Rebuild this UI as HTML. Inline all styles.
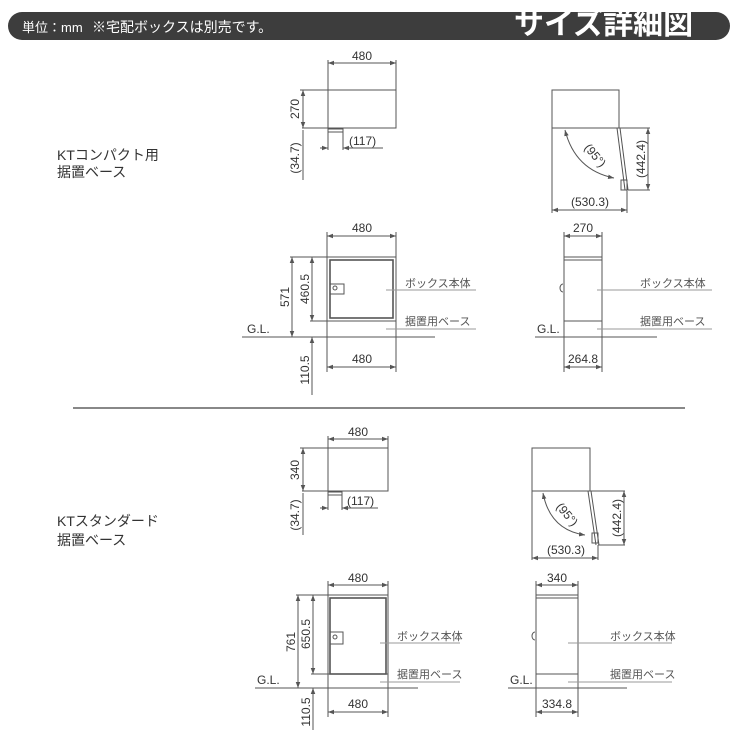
<!DOCTYPE html>
<html><head><meta charset="utf-8"><style>
html,body{margin:0;padding:0;background:#fff}
svg{display:block}
text{font-family:"Liberation Sans","Noto Sans CJK JP",sans-serif;fill:#333}
.l{stroke:#555;stroke-width:1;fill:none}
.t{stroke:#999;stroke-width:1;fill:none}
.d{font-size:12px}
.j{font-size:11px;fill:#555}
</style></head><body>
<svg width="740" height="740" viewBox="0 0 740 740" xmlns="http://www.w3.org/2000/svg">
<defs>
<marker id="a" viewBox="0 0 8 6" refX="8" refY="3" markerWidth="6" markerHeight="5" orient="auto-start-reverse"><path d="M0,0 L8,3 L0,6 z" fill="#555"/></marker>
</defs>
<rect x="8" y="12" width="722" height="28" rx="14" fill="#3d3d3d"/>
<text x="22" y="32" style="fill:#fff;font-size:13px">単位：mm</text>
<text x="92" y="32" style="fill:#fff;font-size:14px">※宅配ボックスは別売です。</text>
<text x="514" y="34" style="fill:#fff;font-size:30px;font-weight:bold">サイズ詳細図</text>

<text x="57" y="160" style="font-size:14px">KTコンパクト用</text>
<text x="57" y="177" style="font-size:14px">据置ベース</text>

<!-- S1 top-left -->
<rect class="l" x="328" y="90" width="68" height="38"/>
<line class="l" x1="328" y1="60" x2="328" y2="90"/><line class="l" x1="396" y1="60" x2="396" y2="90"/>
<line class="l" x1="328" y1="63" x2="396" y2="63" marker-start="url(#a)" marker-end="url(#a)"/>
<text class="d" x="362" y="60" text-anchor="middle">480</text>
<line class="l" x1="300" y1="90" x2="328" y2="90"/><line class="l" x1="302" y1="128" x2="328" y2="128"/>
<line class="l" x1="303" y1="90" x2="303" y2="128" marker-start="url(#a)" marker-end="url(#a)"/>
<text class="d" transform="translate(299,109) rotate(-90)" text-anchor="middle">270</text>
<rect class="l" x="328" y="129" width="15" height="3" fill="#ccc"/>
<line class="l" x1="328" y1="128" x2="328" y2="150"/><line class="l" x1="343" y1="130" x2="343" y2="150"/>
<line class="l" x1="320" y1="148" x2="328" y2="148" marker-end="url(#a)"/>
<line class="l" x1="383" y1="148" x2="343" y2="148" marker-end="url(#a)"/>
<text class="d" x="349" y="145">(117)</text>
<line class="l" x1="303" y1="130" x2="303" y2="180"/>
<text class="d" transform="translate(299,158) rotate(-90)" text-anchor="middle">(34.7)</text>

<!-- S1 top-right -->
<rect class="l" x="552" y="90" width="67" height="38"/>
<line class="l" x1="552" y1="128" x2="650" y2="128"/>
<line class="l" x1="552" y1="128" x2="552" y2="213"/>
<line class="l" x1="617" y1="128" x2="625" y2="190"/>
<line class="l" x1="620" y1="128" x2="628" y2="190"/>
<rect class="l" x="621" y="180" width="6" height="10"/>
<line class="l" x1="628" y1="190" x2="650" y2="190"/>
<path class="l" d="M565,130 Q575,170 614,178" marker-start="url(#a)" marker-end="url(#a)"/>
<text class="d" transform="translate(592,158) rotate(50)" text-anchor="middle">(95°)</text>
<line class="l" x1="648" y1="128" x2="648" y2="190" marker-start="url(#a)" marker-end="url(#a)"/>
<text class="d" transform="translate(645,159) rotate(-90)" text-anchor="middle">(442.4)</text>
<line class="l" x1="627" y1="190" x2="627" y2="213"/>
<line class="l" x1="552" y1="210" x2="627" y2="210" marker-start="url(#a)" marker-end="url(#a)"/>
<text class="d" x="590" y="206" text-anchor="middle">(530.3)</text>

<!-- S1 front -->
<line class="l" x1="327" y1="232" x2="327" y2="257"/><line class="l" x1="396" y1="232" x2="396" y2="257"/>
<line class="l" x1="327" y1="236" x2="396" y2="236" marker-start="url(#a)" marker-end="url(#a)"/>
<text class="d" x="362" y="232" text-anchor="middle">480</text>
<rect class="l" x="327" y="257" width="69" height="64"/>
<rect class="l" x="330" y="260" width="63" height="58" style="stroke-width:1.6"/>
<rect class="l" x="330" y="284" width="14" height="10"/>
<circle class="l" cx="335" cy="288" r="2"/>
<rect class="l" x="327" y="321" width="69" height="16"/>
<line class="l" x1="327" y1="337" x2="327" y2="372"/><line class="l" x1="396" y1="337" x2="396" y2="372"/>
<line class="l" x1="327" y1="367" x2="396" y2="367" marker-start="url(#a)" marker-end="url(#a)"/>
<text class="d" x="362" y="363" text-anchor="middle">480</text>
<line class="l" x1="242" y1="337" x2="435" y2="337"/>
<text class="d" x="247" y="333">G.L.</text>
<line class="l" x1="290" y1="257" x2="327" y2="257"/>
<line class="l" x1="292" y1="257" x2="292" y2="337" marker-start="url(#a)" marker-end="url(#a)"/>
<text class="d" transform="translate(289,297) rotate(-90)" text-anchor="middle">571</text>
<line class="l" x1="310" y1="321" x2="327" y2="321"/>
<line class="l" x1="312" y1="257" x2="312" y2="321" marker-start="url(#a)" marker-end="url(#a)"/>
<text class="d" transform="translate(309,289) rotate(-90)" text-anchor="middle">460.5</text>
<line class="l" x1="312" y1="337" x2="312" y2="395" marker-start="url(#a)"/>
<text class="d" transform="translate(309,370) rotate(-90)" text-anchor="middle">110.5</text>
<line class="t" x1="386" y1="290" x2="476" y2="290"/><text class="j" x="405" y="287">ボックス本体</text>
<line class="t" x1="386" y1="329" x2="476" y2="329"/><text class="j" x="405" y="325">据置用ベース</text>

<!-- S1 side -->
<line class="l" x1="564" y1="232" x2="564" y2="257"/><line class="l" x1="602" y1="232" x2="602" y2="257"/>
<line class="l" x1="564" y1="236" x2="602" y2="236" marker-start="url(#a)" marker-end="url(#a)"/>
<text class="d" x="583" y="232" text-anchor="middle">270</text>
<rect class="l" x="564" y="257" width="38" height="80"/>
<line class="l" x1="564" y1="260" x2="602" y2="260"/>
<line class="l" x1="564" y1="321" x2="602" y2="321"/>
<path class="l" d="M563,284 a3,4 0 0 0 0,8"/>
<line class="l" x1="564" y1="337" x2="564" y2="372"/><line class="l" x1="602" y1="337" x2="602" y2="372"/>
<line class="l" x1="564" y1="367" x2="602" y2="367" marker-start="url(#a)" marker-end="url(#a)"/>
<text class="d" x="583" y="363" text-anchor="middle">264.8</text>
<line class="l" x1="535" y1="337" x2="657" y2="337"/>
<text class="d" x="537" y="333">G.L.</text>
<line class="t" x1="597" y1="290" x2="712" y2="290"/><text class="j" x="640" y="287">ボックス本体</text>
<line class="t" x1="597" y1="329" x2="712" y2="329"/><text class="j" x="640" y="325">据置用ベース</text>

<line x1="73" y1="408" x2="685" y2="408" stroke="#888" stroke-width="2"/>

<text x="57" y="526" style="font-size:14px">KTスタンダード</text>
<text x="57" y="545" style="font-size:14px">据置ベース</text>

<!-- S2 top-left -->
<rect class="l" x="328" y="448" width="60" height="43"/>
<line class="l" x1="328" y1="436" x2="328" y2="448"/><line class="l" x1="388" y1="436" x2="388" y2="448"/>
<line class="l" x1="328" y1="439" x2="388" y2="439" marker-start="url(#a)" marker-end="url(#a)"/>
<text class="d" x="358" y="436" text-anchor="middle">480</text>
<line class="l" x1="300" y1="448" x2="328" y2="448"/><line class="l" x1="302" y1="491" x2="328" y2="491"/>
<line class="l" x1="303" y1="448" x2="303" y2="491" marker-start="url(#a)" marker-end="url(#a)"/>
<text class="d" transform="translate(299,470) rotate(-90)" text-anchor="middle">340</text>
<rect class="l" x="328" y="492" width="14" height="3" fill="#ccc"/>
<line class="l" x1="328" y1="491" x2="328" y2="510"/><line class="l" x1="342" y1="492" x2="342" y2="510"/>
<line class="l" x1="320" y1="508" x2="328" y2="508" marker-end="url(#a)"/>
<line class="l" x1="378" y1="508" x2="342" y2="508" marker-end="url(#a)"/>
<text class="d" x="347" y="505">(117)</text>
<line class="l" x1="303" y1="493" x2="303" y2="535"/>
<text class="d" transform="translate(299,515) rotate(-90)" text-anchor="middle">(34.7)</text>

<!-- S2 top-right -->
<rect class="l" x="532" y="448" width="58" height="43"/>
<line class="l" x1="532" y1="491" x2="625" y2="491"/>
<line class="l" x1="532" y1="491" x2="532" y2="560"/>
<line class="l" x1="588" y1="491" x2="596" y2="545"/>
<line class="l" x1="591" y1="491" x2="599" y2="545"/>
<rect class="l" x="592" y="533" width="6" height="10"/>
<line class="l" x1="598" y1="545" x2="625" y2="545"/>
<path class="l" d="M543,493 Q550,530 585,535" marker-start="url(#a)" marker-end="url(#a)"/>
<text class="d" transform="translate(564,517) rotate(50)" text-anchor="middle">(95°)</text>
<line class="l" x1="624" y1="491" x2="624" y2="545" marker-start="url(#a)" marker-end="url(#a)"/>
<text class="d" transform="translate(621,518) rotate(-90)" text-anchor="middle">(442.4)</text>
<line class="l" x1="598" y1="545" x2="598" y2="560"/>
<line class="l" x1="532" y1="558" x2="598" y2="558" marker-start="url(#a)" marker-end="url(#a)"/>
<text class="d" x="566" y="554" text-anchor="middle">(530.3)</text>

<!-- S2 front -->
<line class="l" x1="328" y1="581" x2="328" y2="595"/><line class="l" x1="388" y1="581" x2="388" y2="595"/>
<line class="l" x1="328" y1="585" x2="388" y2="585" marker-start="url(#a)" marker-end="url(#a)"/>
<text class="d" x="358" y="582" text-anchor="middle">480</text>
<rect class="l" x="328" y="595" width="60" height="79"/>
<rect class="l" x="330" y="598" width="56" height="76" style="stroke-width:1.6"/>
<rect class="l" x="330" y="632" width="13" height="12"/>
<circle class="l" cx="335" cy="637" r="2"/>
<rect class="l" x="328" y="674" width="60" height="14"/>
<line class="l" x1="328" y1="688" x2="328" y2="717"/><line class="l" x1="388" y1="688" x2="388" y2="717"/>
<line class="l" x1="328" y1="712" x2="388" y2="712" marker-start="url(#a)" marker-end="url(#a)"/>
<text class="d" x="358" y="708" text-anchor="middle">480</text>
<line class="l" x1="255" y1="688" x2="418" y2="688"/>
<text class="d" x="257" y="684">G.L.</text>
<line class="l" x1="296" y1="595" x2="328" y2="595"/>
<line class="l" x1="298" y1="595" x2="298" y2="688" marker-start="url(#a)" marker-end="url(#a)"/>
<text class="d" transform="translate(295,642) rotate(-90)" text-anchor="middle">761</text>
<line class="l" x1="311" y1="674" x2="328" y2="674"/>
<line class="l" x1="313" y1="595" x2="313" y2="674" marker-start="url(#a)" marker-end="url(#a)"/>
<text class="d" transform="translate(310,634) rotate(-90)" text-anchor="middle">650.5</text>
<line class="l" x1="313" y1="688" x2="313" y2="730" marker-start="url(#a)"/>
<text class="d" transform="translate(310,712) rotate(-90)" text-anchor="middle">110.5</text>
<line class="t" x1="380" y1="643" x2="460" y2="643"/><text class="j" x="397" y="640">ボックス本体</text>
<line class="t" x1="380" y1="682" x2="460" y2="682"/><text class="j" x="397" y="678">据置用ベース</text>

<!-- S2 side -->
<line class="l" x1="536" y1="581" x2="536" y2="595"/><line class="l" x1="578" y1="581" x2="578" y2="595"/>
<line class="l" x1="536" y1="585" x2="578" y2="585" marker-start="url(#a)" marker-end="url(#a)"/>
<text class="d" x="557" y="582" text-anchor="middle">340</text>
<rect class="l" x="536" y="595" width="42" height="93"/>
<line class="l" x1="536" y1="598" x2="578" y2="598"/>
<line class="l" x1="536" y1="674" x2="578" y2="674"/>
<path class="l" d="M535,632 a3,4 0 0 0 0,8"/>
<line class="l" x1="536" y1="688" x2="536" y2="717"/><line class="l" x1="578" y1="688" x2="578" y2="717"/>
<line class="l" x1="536" y1="712" x2="578" y2="712" marker-start="url(#a)" marker-end="url(#a)"/>
<text class="d" x="557" y="708" text-anchor="middle">334.8</text>
<line class="l" x1="508" y1="688" x2="627" y2="688"/>
<text class="d" x="510" y="684">G.L.</text>
<line class="t" x1="568" y1="643" x2="672" y2="643"/><text class="j" x="610" y="640">ボックス本体</text>
<line class="t" x1="568" y1="682" x2="672" y2="682"/><text class="j" x="610" y="678">据置用ベース</text>
</svg>
</body></html>
